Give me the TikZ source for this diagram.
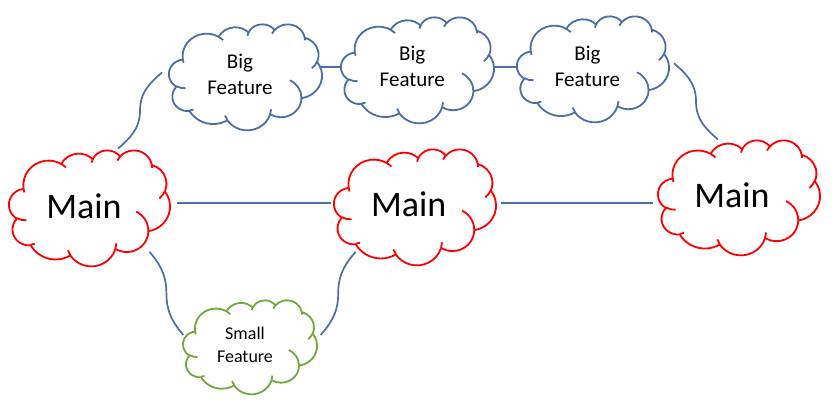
\documentclass[tikz,border=0pt]{standalone}
\usepackage{fontspec}
\setmainfont{Carlito}
\usetikzlibrary{calc}
\definecolor{cblue}{RGB}{74,110,165}
\definecolor{cgreen}{RGB}{112,168,60}
\definecolor{cred}{RGB}{255,0,0}
\tikzset{
  cloudline/.style={line width=1.8pt, line join=round},
  conn/.style={draw=cblue, line width=1.7pt},
  mainlbl/.style={inner sep=0pt, anchor=base, font=\fontsize{36}{43}\selectfont},
  biglbl/.style={inner sep=0pt, anchor=south, align=center, font=\fontsize{21}{26}\selectfont},
  smalllbl/.style={inner sep=0pt, anchor=south, align=center, font=\fontsize{18}{22.7}\selectfont}
}
% visual (ray) angle -> parametric ellipse angle, k = wR/hR
\pgfmathdeclarefunction{pang}{2}{\begingroup\pgfmathparse{#2+atan(#1*tan(#2))-atan(tan(#2))}\pgfmathsmuggle\pgfmathresult\endgroup}
\newcommand\oa[4]{arc[start angle={pang(#1/#2,#3)},end angle={pang(#1/#2,#3+#4)},x radius=#1,y radius=#2]}
% Office-style cloud: x0,y0 (top-left), width, height, colour
\newcommand\ocloud[5]{%
\begin{scope}[shift={(#1,#2)},xscale=#3/432,yscale=#4/432]
\draw[draw=#5,cloudline,fill=white] (39.00,143.70)
 \oa{67.53}{91.90}{-190.4875}{123.7805}
 \oa{53.33}{72.67}{-144.1024}{89.9452}
 \oa{43.65}{59.45}{-145.8079}{99.7230}
 \oa{48.57}{65.95}{-130.9861}{117.2417}
 \oa{53.33}{72.73}{-78.7089}{109.0269}
 \oa{67.75}{92.20}{-46.2673}{130.2690}
 \oa{57.85}{78.67}{0.6250}{114.0333}
 \oa{67.52}{92.15}{22.4516}{115.1726}
 \oa{77.20}{105.43}{66.2426}{75.7110}
 \oa{43.60}{59.18}{-274.9421}{146.7356}
 \oa{43.45}{59.45}{-246.8285}{152.5189}
 -- cycle;
\draw[draw=#5,cloudline]
 (46.93,261.77) \oa{43.45}{59.45}{86.7420}{26.4295}
 (69.28,348.99) \oa{43.60}{59.18}{73.6105}{11.4475}
 (164.78,390.90) \oa{67.52}{92.15}{137.6242}{14.0811}
 (288.27,347.51) \oa{67.52}{92.15}{6.4533}{15.9984}
 (341.29,229.54) \oa{57.85}{78.67}{-70.2924}{70.9174}
 (417.98,153.54) \oa{53.33}{72.73}{30.3180}{27.7515}
 (383.24,54.26) \oa{48.57}{65.95}{-13.7443}{14.8589}
 (290.78,39.52) \oa{48.57}{65.95}{-149.1815}{18.1954}
 (221.41,47.20) \oa{43.65}{59.45}{-163.4943}{17.6864}
 (140.00,51.92) \oa{67.53}{91.90}{-66.7070}{12.3194}
 (41.27,157.89) \oa{67.53}{91.90}{157.6544}{11.8582};
\end{scope}}
% S-shaped curved connector between two named points
\newcommand\sconn[2]{%
\draw[conn] let \p1=(#1), \p2=(#2) in
 (\p1) .. controls ({(3*\x1+\x2)/4},{(7*\y1+\y2)/8}) and ({(\x1+\x2)/2},{(3*\y1+\y2)/4})
 .. ({(\x1+\x2)/2},{(\y1+\y2)/2})
 .. controls ({(\x1+\x2)/2},{(\y1+3*\y2)/4}) and ({(\x1+3*\x2)/4},{(\y1+7*\y2)/8}) .. (\p2);}
\begin{document}
\begin{tikzpicture}[x=1pt,y=-1pt]
\useasboundingbox[fill=white] (0,0) rectangle (837,409);
% clouds
\ocloud{9}{150}{161}{116}{cred}
\ocloud{334}{149}{162}{116}{cred}
\ocloud{658}{140}{162}{115}{cred}
\ocloud{169}{24}{153}{106}{cblue}
\ocloud{341}{17}{153}{106}{cblue}
\ocloud{517}{16}{152}{106}{cblue}
\ocloud{183}{300}{134}{94}{cgreen}
% labels
\node[mainlbl] (m1) at (84,218) {Main};
\node[mainlbl] (m2) at (408.7,216) {Main};
\node[mainlbl] (m3) at (732,207.3) {Main};
\node[biglbl] (b1) at (240,95) {Big\\Feature};
\node[biglbl] (b2) at (412.3,87.3) {Big\\Feature};
\node[biglbl] (b3) at (587.5,87.3) {Big\\Feature};
\node[smalllbl] (s1) at (245,362.7) {Small\\Feature};
% connection points
\coordinate (m1top) at (118,148.5);
\coordinate (m1right) at (177,202.7);
\coordinate (m1bot) at (149.5,251.7);
\coordinate (m2left) at (331,202.7);
\coordinate (m2right) at (500.7,202.7);
\coordinate (m2bot) at (355.7,251.7);
\coordinate (m3left) at (653,202.7);
\coordinate (m3top) at (718,139.5);
\coordinate (b1left) at (162,72.5);
\coordinate (b1right) at (321,66.7);
\coordinate (b2left) at (341,66.7);
\coordinate (b2right) at (494,66.7);
\coordinate (b3left) at (517,66.7);
\coordinate (b3right) at (674,63.3);
\coordinate (s1left) at (183.3,335);
\coordinate (s1right) at (320.7,335);
% connectors
\draw[conn] (m1right) -- (m2left);
\draw[conn] (m2right) -- (m3left);
\draw[conn] (b1right) -- (b2left);
\draw[conn] (b2right) -- (b3left);
\sconn{m1top}{b1left}
\sconn{b3right}{m3top}
\sconn{m1bot}{s1left}
\sconn{s1right}{m2bot}
\end{tikzpicture}
\end{document}
